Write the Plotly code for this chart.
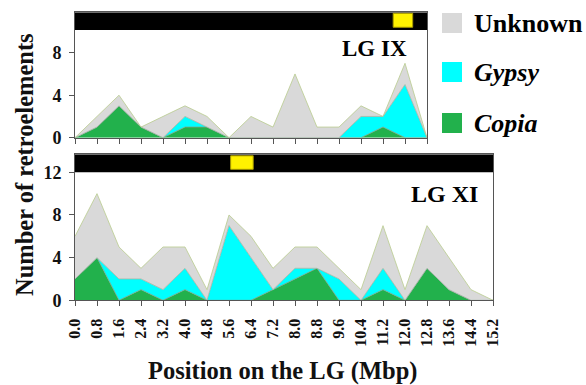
import plotly.graph_objects as go

# Positions along each linkage group (Mbp)
pos_ix = [0.0, 0.8, 1.6, 2.4, 3.2, 4.0, 4.8, 5.6, 6.4, 7.2, 8.0, 8.8, 9.6, 10.4, 11.2, 12.0, 12.8]
pos_xi = [0.0, 0.8, 1.6, 2.4, 3.2, 4.0, 4.8, 5.6, 6.4, 7.2, 8.0, 8.8, 9.6, 10.4, 11.2, 12.0,
          12.8, 13.6, 14.4, 15.2]
tick_labels = ["0.0", "0.8", "1.6", "2.4", "3.2", "4.0", "4.8", "5.6", "6.4", "7.2", "8.0",
               "8.8", "9.6", "10.4", "11.2", "12.0", "12.8", "13.6", "14.4", "15.2"]

# Retroelement counts per window, LG IX
copia_ix = [0, 1, 3, 1, 0, 1, 1, 0, 0, 0, 0, 0, 0, 0, 1, 0, 0]
gypsy_ix = [0, 0, 0, 0, 0, 1, 0, 0, 0, 0, 0, 0, 0, 2, 1, 5, 0]
unknown_ix = [0, 1, 1, 0, 2, 1, 1, 0, 2, 1, 6, 1, 1, 1, 0, 2, 0]

# Retroelement counts per window, LG XI
copia_xi = [2, 4, 0, 1, 0, 1, 0, 0, 0, 1, 2, 3, 0, 0, 1, 0, 3, 1, 0, 0]
gypsy_xi = [0, 0, 2, 1, 1, 2, 0, 7, 4, 0, 1, 0, 2, 0, 2, 0, 0, 0, 0, 0]
unknown_xi = [4, 6, 3, 1, 4, 2, 1, 1, 2, 2, 2, 2, 1, 1, 4, 1, 4, 3, 1, 0]

# Centromere marks (Mbp)
centromere_ix = (11.57, 12.28)
centromere_xi = (5.66, 6.48)

W, H = 586, 385
SERIF = "Liberation Serif"
C_UNK, C_GYP, C_COP = "#d9d9d9", "#00ffff", "#22b14c"


def px(x):
    return x / W


def py(y):
    return 1 - y / H


fig = go.Figure()

series = [("Copia", C_COP, "#7f9f7f"), ("Gypsy", C_GYP, "#9fb5a5"), ("Unknown", C_UNK, "#b9cc8e")]
for xs, vals, xa, ya, grp in [
    (pos_ix, [copia_ix, gypsy_ix, unknown_ix], "x", "y", "ix"),
    (pos_xi, [copia_xi, gypsy_xi, unknown_xi], "x2", "y2", "xi"),
]:
    for (name, col, edge), v in zip(series, vals):
        fig.add_trace(go.Scatter(
            x=xs, y=v, xaxis=xa, yaxis=ya, stackgroup=grp, mode="lines",
            fillcolor=col, line=dict(color=edge, width=0.8), name=name,
            showlegend=False, hoverinfo="skip",
        ))

axis_common = dict(showline=True, linecolor="#555555", linewidth=1, mirror=True,
                   ticks="outside", ticklen=5, tickcolor="#555555", showgrid=False,
                   zeroline=False, automargin=False)

top_range = 11.8
bot_range = 13.69
fig.update_layout(
    width=W, height=H, margin=dict(l=0, r=0, t=0, b=0, pad=0),
    paper_bgcolor="white", plot_bgcolor="white", showlegend=False,
    xaxis=dict(domain=[px(75), px(427)], range=[0, 12.8], tickvals=pos_ix,
               showticklabels=False, anchor="y", **axis_common),
    yaxis=dict(domain=[py(137.7), py(12.3)], range=[0, top_range], tickvals=[0, 4, 8],
               tickfont=dict(family=SERIF, size=18, color="#111111", weight="bold"),
               ticklabelstandoff=4, anchor="x", **axis_common),
    xaxis2=dict(domain=[px(75), px(493)], range=[0, 15.2], tickvals=pos_xi,
                ticktext=tick_labels, tickangle=-90,
                tickfont=dict(family=SERIF, size=16, color="#111111", weight="bold"),
                ticklabelstandoff=6, anchor="y2", **axis_common),
    yaxis2=dict(domain=[py(300.3), py(154.3)], range=[0, bot_range], tickvals=[0, 4, 8, 12],
                tickfont=dict(family=SERIF, size=18, color="#111111", weight="bold"),
                ticklabelstandoff=4, anchor="x2", **axis_common),
)

# Black chromosome bands with yellow centromere boxes
fig.add_shape(type="rect", xref="x", yref="y", x0=0, x1=12.8, y0=10.14, y1=top_range,
              fillcolor="black", line=dict(width=0), layer="above")
fig.add_shape(type="rect", xref="x", yref="y", x0=centromere_ix[0], x1=centromere_ix[1],
              y0=10.39, y1=11.71, fillcolor="#fff200", line=dict(color="#a89a00", width=1),
              layer="above")
fig.add_shape(type="rect", xref="x2", yref="y2", x0=0, x1=15.2, y0=12.0, y1=bot_range,
              fillcolor="black", line=dict(width=0), layer="above")
fig.add_shape(type="rect", xref="x2", yref="y2", x0=centromere_xi[0], x1=centromere_xi[1],
              y0=12.28, y1=13.55, fillcolor="#fff200", line=dict(color="#a89a00", width=1),
              layer="above")

# Panel labels
fig.add_annotation(text="LG IX", xref="paper", yref="paper", x=px(409), y=py(48.5),
                   xanchor="right", yanchor="middle", showarrow=False,
                   font=dict(family=SERIF, size=23, color="black", weight="bold"))
fig.add_annotation(text="LG XI", xref="paper", yref="paper", x=px(480), y=py(194),
                   xanchor="right", yanchor="middle", showarrow=False,
                   font=dict(family=SERIF, size=24, color="black", weight="bold"))

# Axis titles
fig.add_annotation(text="Number of retroelements", xref="paper", yref="paper",
                   x=px(24), y=py(165), textangle=-90, showarrow=False,
                   xanchor="center", yanchor="middle",
                   font=dict(family=SERIF, size=24.5, color="#111111", weight="bold"))
fig.add_annotation(text="Position on the LG (Mbp)", xref="paper", yref="paper",
                   x=px(283), y=py(371), showarrow=False, xanchor="center", yanchor="middle",
                   font=dict(family=SERIF, size=24.5, color="#111111", weight="bold"))

# Legend
legend_items = [("Unknown", C_UNK, 23, False), ("Gypsy", C_GYP, 72, True), ("Copia", C_COP, 123, True)]
for label, col, yc, ital in legend_items:
    fig.add_shape(type="rect", xref="paper", yref="paper", x0=px(442), x1=px(462),
                  y0=py(yc + 10), y1=py(yc - 10), fillcolor=col, line=dict(width=0))
    fig.add_annotation(text=f"<i>{label}</i>" if ital else label, xref="paper", yref="paper",
                       x=px(472), y=py(yc), xanchor="left", yanchor="middle", showarrow=False,
                       font=dict(family=SERIF, size=26, color="black", weight="bold"))

fig.write_html("out.html")
